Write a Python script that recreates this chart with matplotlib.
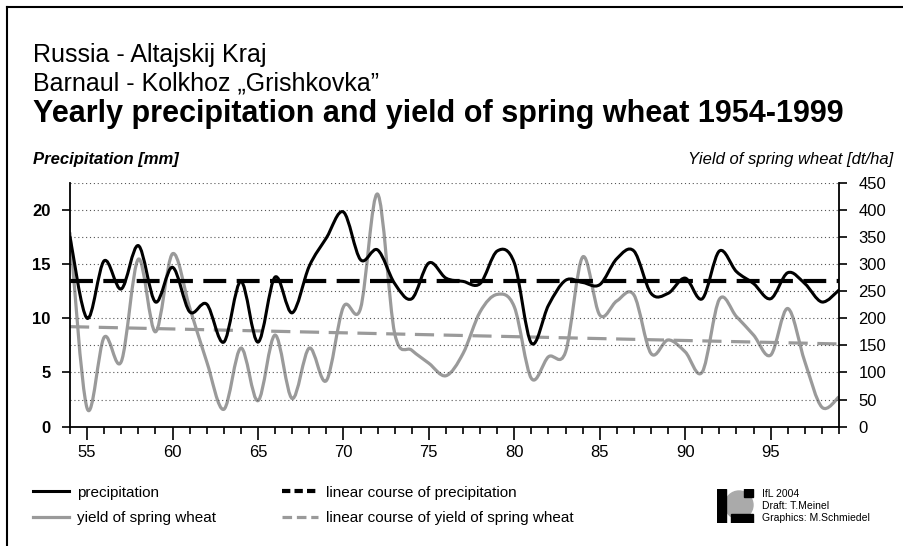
import numpy as np
import matplotlib
matplotlib.use("Agg")
import matplotlib.pyplot as plt
from matplotlib.path import Path
from matplotlib.patches import PathPatch, Rectangle, Circle
from matplotlib.lines import Line2D

plt.rcParams['font.family'] = ['Liberation Sans', 'DejaVu Sans']

# data
years = list(range(54, 100))
precip = [17.5, 10.0, 15.3, 12.7, 16.7, 11.5, 14.7, 10.6, 11.3, 7.8,
          13.4, 7.8, 13.8, 10.5, 14.8, 17.4, 19.8, 15.4, 16.3, 13.2,
          11.8, 15.1, 13.7, 13.4, 13.2, 16.2, 15.1, 7.7, 11.2, 13.5,
          13.3, 13.1, 15.5, 16.2, 12.3, 12.3, 13.7, 11.8, 16.2, 14.3,
          13.2, 11.8, 14.2, 13.2, 11.5, 12.6]
yield_wheat = [357, 34, 165, 120, 309, 175, 319, 220, 120, 32,
               145, 48, 169, 52, 145, 85, 221, 218, 429, 172,
               141, 117, 94, 135, 212, 244, 221, 89, 129, 138,
               313, 206, 232, 243, 135, 160, 138, 101, 235, 203,
               169, 132, 218, 120, 36, 55]
trend_years = [54, 99]
precip_trend = [13.45, 13.45]
yield_trend = [184.5, 152.6]

left_ticks = [0, 5, 10, 15, 20]
right_ticks = list(range(0, 451, 50))
x_major = list(range(55, 100, 5))


def smooth_path(xs, ys):
    # Catmull-Rom curve through the points, drawn as cubic Bezier segments
    p = np.column_stack([xs, ys]).astype(float)
    n = len(p)
    verts = [p[0]]
    codes = [Path.MOVETO]
    for i in range(n - 1):
        p0 = p[i - 1] if i > 0 else p[i]
        p3 = p[i + 2] if i + 2 < n else p[i + 1]
        c1 = p[i] + (p[i + 1] - p0) / 6.0
        c2 = p[i + 1] - (p3 - p[i]) / 6.0
        verts += [c1, c2, p[i + 1]]
        codes += [Path.CURVE4] * 3
    return Path(verts, codes)


fig = plt.figure(figsize=(9.04, 5.46), dpi=100)
ax = fig.add_axes([70 / 904, 1 - 426.7 / 546, 769 / 904, 244 / 546])
ax2 = ax.twinx()
ax.set_zorder(ax2.get_zorder() + 1)
ax.patch.set_visible(False)

ax.set_xlim(54, 99)
ax.set_ylim(0, 22.5)
ax2.set_ylim(0, 450)

# grid
for g in np.arange(2.5, 22.6, 2.5):
    ax.axhline(g, color='#555555', lw=0.8, ls=(0, (1, 2.5)), zorder=0)

gray = '#9a9a9a'
ax2.add_patch(PathPatch(smooth_path(years, yield_wheat), fill=False,
                        edgecolor=gray, lw=2.3, capstyle='round', joinstyle='round'))
ax2.plot(trend_years, yield_trend, color=gray, lw=2.3, ls=(0, (6, 3)))
ax.plot(trend_years, precip_trend, color='black', lw=3, ls=(0, (5.5, 2.5)), zorder=3)
ax.add_patch(PathPatch(smooth_path(years, precip), fill=False,
                       edgecolor='black', lw=2.2, capstyle='round', joinstyle='round', zorder=4))

# spines and ticks
for a in (ax, ax2):
    a.spines['top'].set_visible(False)
    for s in a.spines.values():
        s.set_linewidth(1.3)
ax.spines['right'].set_visible(False)
ax2.spines['left'].set_visible(False)
ax2.spines['bottom'].set_visible(False)

ax.set_yticks(left_ticks)
ax.set_yticklabels([str(t) for t in left_ticks], fontsize=12, fontweight='bold')
ax2.set_yticks(right_ticks)
ax2.set_yticklabels([str(t) for t in right_ticks], fontsize=12)
ax.set_xticks(x_major)
ax.set_xticklabels([str(t) for t in x_major], fontsize=12)
ax.set_xticks(years, minor=True)
ax.tick_params(axis='x', which='major', length=9, width=1.2, direction='out', pad=4)
ax.tick_params(axis='x', which='minor', length=5, width=1.2, direction='out')
ax.tick_params(axis='y', length=6, width=1.2, direction='out', pad=8)
ax2.tick_params(axis='y', length=6, width=1.2, direction='out', pad=8)

# titles
fig.text(33 / 904, 1 - 62 / 546, 'Russia - Altajskij Kraj', fontsize=18)
fig.text(33 / 904, 1 - 91 / 546, 'Barnaul - Kolkhoz \u201eGrishkovka\u201d', fontsize=18)
fig.text(33 / 904, 1 - 122 / 546, 'Yearly precipitation and yield of spring wheat 1954-1999',
         fontsize=22, fontweight='bold')
fig.text(33 / 904, 1 - 164 / 546, 'Precipitation [mm]', fontsize=12,
         fontweight='bold', fontstyle='italic')
fig.text(893 / 904, 1 - 164 / 546, 'Yield of spring wheat [dt/ha]', fontsize=12,
         fontstyle='italic', ha='right')

# legend
handles = [Line2D([], [], color='black', lw=2.2),
           Line2D([], [], color=gray, lw=2.3),
           Line2D([], [], color='black', lw=3, ls=(0, (2, 1))),
           Line2D([], [], color=gray, lw=2.3, ls=(0, (3, 1.5)))]
labels = ['precipitation', 'yield of spring wheat',
          'linear course of precipitation', 'linear course of yield of spring wheat']
fig.legend(handles, labels, ncol=2, loc='upper left',
           bbox_to_anchor=(25 / 904, 1 - 478 / 546), frameon=False,
           fontsize=11, handlelength=2.4, handletextpad=0.5,
           columnspacing=4.3, labelspacing=0.75, borderpad=0)

# logo
lax = fig.add_axes([717 / 904, 1 - 523 / 546, 40 / 904, 34 / 546])
lax.set_xlim(0, 40)
lax.set_ylim(0, 34)
lax.axis('off')
lax.add_patch(Circle((22, 18), 14, color='#aaaaaa'))
lax.add_patch(Rectangle((0, 0), 9, 34, color='black'))
lax.add_patch(Rectangle((27, 26), 9, 8, color='black'))
lax.add_patch(Rectangle((14, 0), 22, 9, color='black'))
fig.text(762 / 904, 1 - 497 / 546, 'IfL 2004', fontsize=7.5)
fig.text(762 / 904, 1 - 509 / 546, 'Draft: T.Meinel', fontsize=7.5)
fig.text(762 / 904, 1 - 521 / 546, 'Graphics: M.Schmiedel', fontsize=7.5)

# frame
fig.add_artist(Line2D([7 / 904, 7 / 904], [0, 1 - 7 / 546], color='black', lw=1.5))
fig.add_artist(Line2D([7 / 904, 1], [1 - 7 / 546, 1 - 7 / 546], color='black', lw=1.5))

fig.savefig('out.png', dpi=100)
